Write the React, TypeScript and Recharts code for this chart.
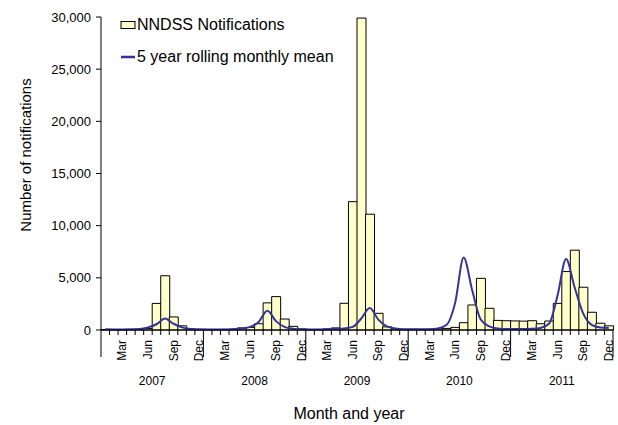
import { ComposedChart, Bar, Line, XAxis, YAxis, Legend } from "recharts";

const months = ["Jan", "Feb", "Mar", "Apr", "May", "Jun", "Jul", "Aug", "Sep", "Oct", "Nov", "Dec"];
const years = ["2007", "2008", "2009", "2010", "2011"];
const labelledMonths = ["Mar", "Jun", "Sep", "Dec"];

// NNDSS notifications, Jan 2007 .. Dec 2011
const notifications = [
  50, 40, 40, 50, 80, 150, 2550, 5200, 1250, 400, 100, 50,
  50, 50, 60, 80, 200, 250, 600, 2600, 3200, 1050, 350, 100,
  50, 50, 100, 200, 2560, 12300, 29900, 11100, 1600, 300, 100, 50,
  60, 60, 70, 100, 150, 250, 700, 2400, 4950, 2080, 920, 890,
  870, 850, 890, 600, 860, 2550, 5600, 7650, 4100, 1700, 650, 400,
];

// 5 year rolling monthly mean
const rollingMean = [
  60, 50, 50, 60, 100, 250, 550, 1100, 600, 250, 100, 60,
  50, 50, 50, 80, 150, 300, 800, 1850, 850, 300, 120, 60,
  50, 50, 60, 100, 150, 300, 1100, 2100, 1000, 350, 150, 80,
  70, 70, 80, 150, 500, 2600, 6950, 3800, 1000, 350, 150, 100,
  100, 100, 120, 200, 600, 3300, 6800, 4100, 1600, 500, 250, 200,
];

const yTicks = [0, 5000, 10000, 15000, 20000, 25000, 30000];

const data = years.flatMap((year, yi) =>
  months.map((month, mi) => ({
    key: `${month} ${year}`,
    month,
    year,
    notifications: notifications[yi * 12 + mi],
    mean: rollingMean[yi * 12 + mi],
  }))
);

const FONT = "'Liberation Sans', Arial, sans-serif";
const PLOT_W = 512;
const HALF = PLOT_W / data.length / 2;

const MonthTick = (props: any) => {
  const { x, y, index } = props;
  const d = data[index];
  if (!d) return null;
  const mi = months.indexOf(d.month);
  const left = x - HALF;
  return (
    <g>
      <line x1={left} y1={y} x2={left} y2={mi === 0 ? y + 27 : y + 5} stroke="#000" />
      {index === data.length - 1 && (
        <line x1={x + HALF} y1={y} x2={x + HALF} y2={y + 27} stroke="#000" />
      )}
      {labelledMonths.includes(d.month) && (
        <text
          x={x}
          y={y + 10}
          transform={`rotate(-90, ${x}, ${y + 10})`}
          textAnchor="end"
          dominantBaseline="central"
          fontSize={12}
          fontFamily={FONT}
          fill="#000"
        >
          {d.month}
        </text>
      )}
      {mi === 5 && (
        <text
          x={x + HALF}
          y={y + 51}
          textAnchor="middle"
          dominantBaseline="central"
          fontSize={12}
          fontFamily={FONT}
          fill="#000"
        >
          {d.year}
        </text>
      )}
    </g>
  );
};

const renderLegend = () => (
  <div style={{ fontFamily: FONT, fontSize: 16, color: "#000" }}>
    <div style={{ height: 26, display: "flex", alignItems: "center" }}>
      <svg width={16} height={10} style={{ marginRight: 1 }}>
        <rect x={1} y={1.5} width={14} height={7} fill="#FFFFCC" stroke="#000" />
      </svg>
      NNDSS Notifications
    </div>
    <div style={{ height: 26, marginTop: 6, display: "flex", alignItems: "center" }}>
      <svg width={16} height={10} style={{ marginRight: 1 }}>
        <line x1={1} y1={5} x2={15} y2={5} stroke="#333399" strokeWidth={2.5} />
      </svg>
      5 year rolling monthly mean
    </div>
  </div>
);

export default function App() {
  return (
    <div style={{ position: "absolute", left: 0, top: 0, background: "#fff" }}>
      <ComposedChart
        width={618}
        height={425}
        data={data}
        margin={{ top: 17, right: 5, bottom: 0, left: 0 }}
        barCategoryGap={0}
        barGap={0}
        style={{ fontFamily: FONT }}
      >
        <XAxis
          dataKey="key"
          interval={0}
          tickLine={false}
          tickSize={0}
          tickMargin={0}
          height={95}
          axisLine={{ stroke: "#000" }}
          tick={<MonthTick />}
          label={{
            content: () => (
              <text x={349} y={413} textAnchor="middle" dominantBaseline="central" fontSize={16} fontFamily={FONT} fill="#000">
                Month and year
              </text>
            ),
          }}
        />
        <YAxis
          width={101}
          domain={[0, 30000]}
          ticks={yTicks}
          interval={0}
          tickSize={5}
          tickMargin={5}
          axisLine={{ stroke: "#000" }}
          tickLine={{ stroke: "#000" }}
          tick={{ fontSize: 13, fill: "#000", fontFamily: FONT }}
          tickFormatter={(v: number) => v.toLocaleString("en-US")}
          label={{
            content: () => (
              <text x={25} y={155} transform="rotate(-90, 25, 155)" textAnchor="middle" dominantBaseline="central" fontSize={15} fontFamily={FONT} fill="#000">
                Number of notifications
              </text>
            ),
          }}
        />
        <Legend
          content={renderLegend}
          layout="vertical"
          verticalAlign="middle"
          align="center"
          wrapperStyle={{ top: 12, left: 120, width: 280 }}
        />
        <Bar
          dataKey="notifications"
          name="NNDSS Notifications"
          fill="#FFFFCC"
          stroke="#000"
          strokeWidth={1}
          isAnimationActive={false}
        />
        <Line
          type="monotone"
          dataKey="mean"
          name="5 year rolling monthly mean"
          stroke="#333399"
          strokeWidth={2}
          dot={false}
          isAnimationActive={false}
        />
      </ComposedChart>
    </div>
  );
}
